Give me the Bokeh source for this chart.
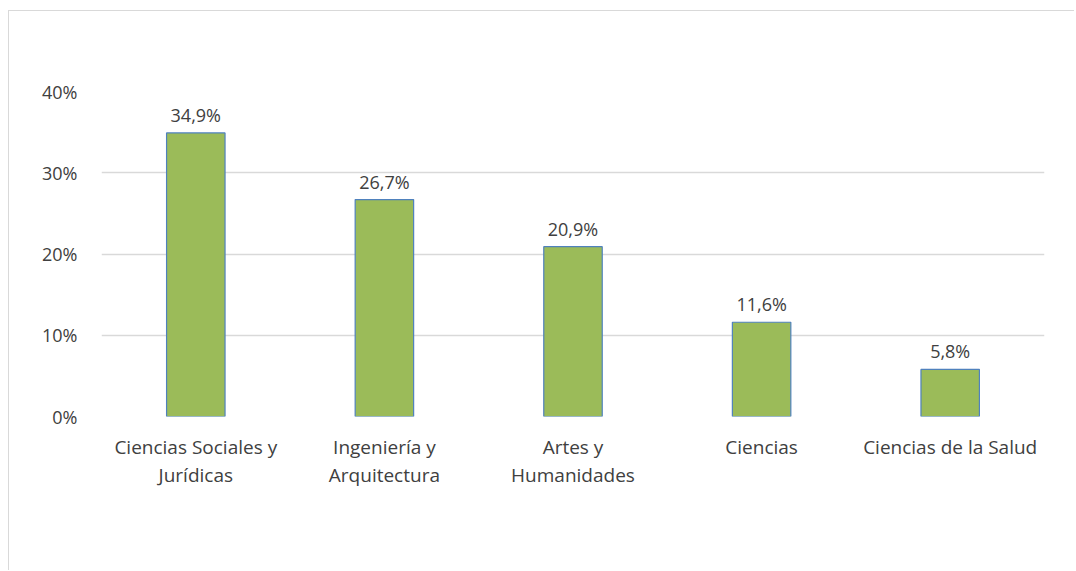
from bokeh.plotting import figure
from bokeh.models import ColumnDataSource, Range1d, FixedTicker, PrintfTickFormatter, LabelSet
from bokeh.core.properties import value
from bokeh.embed import file_html
from bokeh.resources import INLINE

categories = ["Ciencias Sociales y\nJurídicas", "Ingeniería y\nArquitectura", "Artes y\nHumanidades",
              "Ciencias", "Ciencias de la Salud"]
values = [34.9, 26.7, 20.9, 11.6, 5.8]
labels = [f"{v:.1f}%".replace(".", ",") for v in values]
y_ticks = [0, 10, 20, 30, 40]

src = ColumnDataSource(dict(cat=categories, val=values, lab=labels))

FONT = "Open Sans"

p = figure(x_range=categories, y_range=Range1d(0, 40), width=1066, height=560,
           output_backend="svg", toolbar_location=None,
           min_border_left=92, min_border_right=31, min_border_top=80, min_border_bottom=155)
p.margin = (10, 0, 0, 8)
p.styles = {"border-left": "1px solid #d9d9d9", "border-top": "1px solid #d9d9d9"}
p.outline_line_color = None
p.background_fill_color = "white"

p.vbar(x="cat", top="val", width=0.31, source=src, fill_color="#9BBB59",
       line_color="#4F81BD", line_width=1.2)

p.add_layout(LabelSet(x="cat", y="val", text="lab", source=src, text_align="center",
                      text_baseline="bottom", y_offset=6, text_font=value(FONT),
                      text_font_size="18px", text_color="#404040"))

p.yaxis.ticker = FixedTicker(ticks=y_ticks)
p.yaxis.formatter = PrintfTickFormatter(format="%d%%")
for ax in (p.xaxis, p.yaxis):
    ax.axis_line_color = None
    ax.major_tick_line_color = None
    ax.minor_tick_line_color = None
    ax.major_label_text_font = FONT
    ax.major_label_text_color = "#404040"
p.yaxis.major_label_text_font_size = "18px"
p.xaxis.major_label_text_font_size = "19px"
p.yaxis.major_label_standoff = 18
p.xaxis.major_label_standoff = 11
p.xaxis.major_label_text_line_height = 1.08
p.xgrid.grid_line_color = None
p.ygrid.grid_line_color = "#d9d9d9"
p.ygrid.grid_line_width = 1.3
p.ygrid.ticker = FixedTicker(ticks=y_ticks)

open("out.html", "w").write(file_html(p, INLINE))
